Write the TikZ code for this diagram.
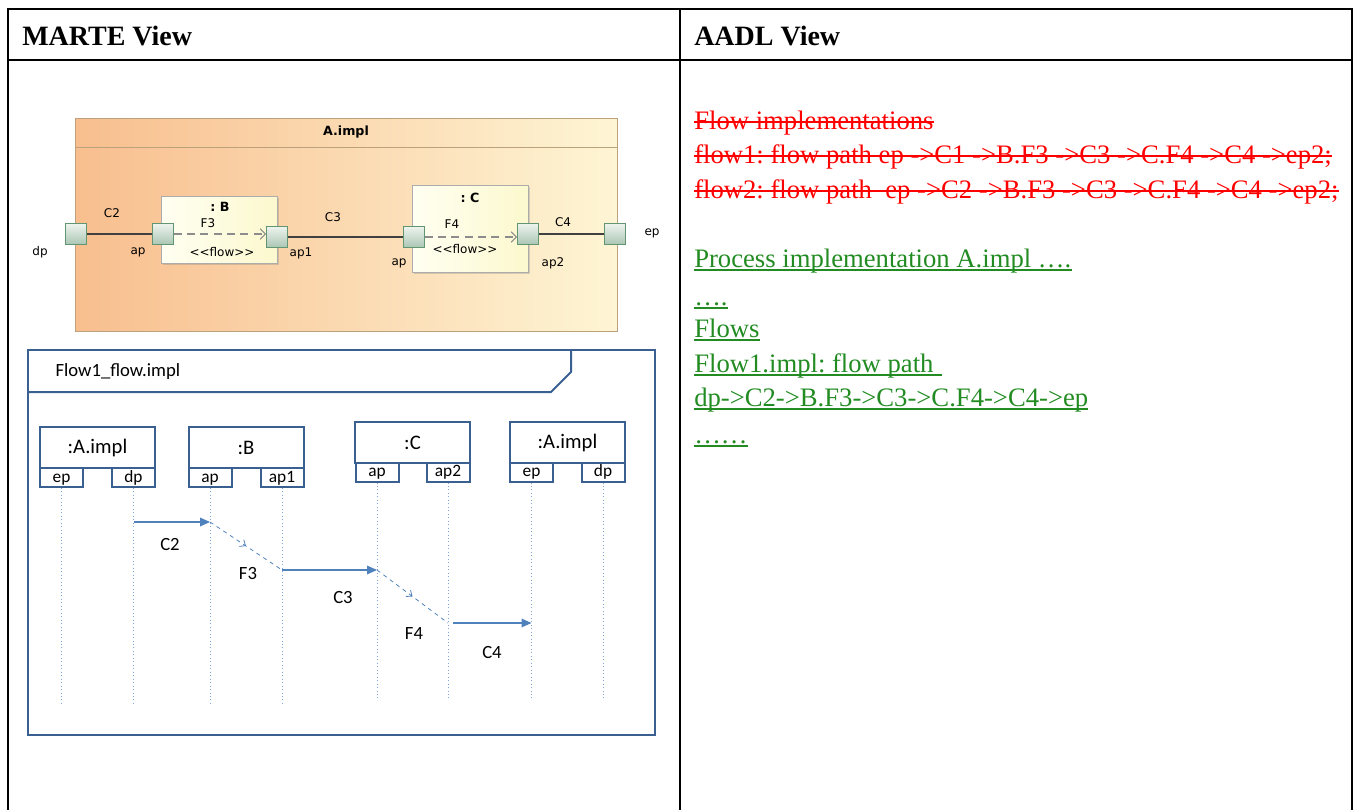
\documentclass[tikz,border=0pt]{standalone}
\usepackage{fontspec}
\setmainfont{Liberation Serif}
\newfontfamily\umlfont{DejaVu Sans}
\newfontfamily\seqfont{Carlito}
\usetikzlibrary{arrows.meta,positioning,shadows,decorations.markings}
\frenchspacing

\definecolor{aorange}{RGB}{248,190,142}
\definecolor{ayellow}{RGB}{254,245,212}
\definecolor{aborder}{RGB}{188,162,124}
\definecolor{partlight}{RGB}{255,255,242}
\definecolor{partfill}{RGB}{252,248,206}
\definecolor{portlight}{RGB}{238,244,238}
\definecolor{portdark}{RGB}{170,198,180}
\definecolor{portborder}{RGB}{98,150,114}
\definecolor{seqblue}{RGB}{58,95,145}
\definecolor{msgblue}{RGB}{79,129,189}
\definecolor{lifeblue}{RGB}{130,165,215}
\definecolor{aadlred}{RGB}{255,0,0}
\definecolor{aadlgreen}{RGB}{34,139,34}

\begin{document}
\begin{tikzpicture}[
  x=0.75pt, y=-0.75pt,
  tbl/.style={line width=1.5pt, draw=black},
  head/.style={font=\bfseries\fontsize{21}{25}\selectfont, anchor=base west, inner sep=0pt},
  oldtxt/.style={text=aadlred, font=\fontsize{20}{24}\selectfont, anchor=base west, inner sep=0pt},
  newtxt/.style={text=aadlgreen, font=\fontsize{20}{24}\selectfont, anchor=base west, inner sep=0pt},
  strike/.style={draw=aadlred, line width=1.5pt},
  underl/.style={draw=aadlgreen, line width=1.1pt},
  part/.style={draw=gray!65, left color=partlight, right color=partfill, minimum width=87pt, inner sep=0pt,
    drop shadow={shadow xshift=1.5pt, shadow yshift=-1.5pt, opacity=0.3}},
  port/.style={draw=portborder, top color=portlight, bottom color=portdark, minimum size=15.75pt, inner sep=0pt},
  conn/.style={draw=black!75, line width=0.8pt},
  flowline/.style={draw=gray!90, line width=0.8pt, dash pattern=on 6pt off 4pt, -{Straight Barb[length=4pt, width=8pt]}},
  uml/.style={font=\umlfont\fontsize{9}{11}\selectfont, inner sep=1pt},
  umlbold/.style={font=\umlfont\bfseries\fontsize{9.5}{11}\selectfont, inner sep=1pt},
  frame/.style={draw=seqblue, line width=1.5pt},
  seqhead/.style={draw=seqblue, line width=1.5pt, fill=white, minimum width=86.25pt, minimum height=30.75pt,
    font=\seqfont\fontsize{15.5}{17}\selectfont, inner sep=0pt},
  seqport/.style={draw=seqblue, line width=1.5pt, fill=white, minimum width=32.25pt, minimum height=14.25pt,
    font=\seqfont\fontsize{13}{14}\selectfont, inner sep=0pt, text height=8pt, text depth=1pt},
  seqlbl/.style={font=\seqfont\fontsize{14}{16}\selectfont, inner sep=1pt},
  life/.style={draw=lifeblue, dotted, line width=0.6pt},
  msg/.style={draw=msgblue, line width=0.9pt, -{Triangle[length=7.5pt, width=6.5pt]}},
  flowmsg/.style={draw=msgblue, dashed, line width=0.6pt, postaction={decorate},
    decoration={markings, mark=at position 0.5 with {\arrow{Straight Barb[length=3.5pt, width=6pt]}}}}
]
\useasboundingbox (0,0) rectangle (1356,810);

\draw[tbl] (8,810) -- (8,9) -- (1352,9) -- (1352,810);
\draw[tbl] (8,60) -- (1352,60);
\draw[tbl] (680,9) -- (680,810);
\node[head] (marte) at (22,45) {MARTE View};
\node[head] (aadl) at (694,45) {AADL View};

\node[draw=aborder, left color=aorange, right color=ayellow, minimum width=406.5pt, minimum height=159.75pt, inner sep=0pt]
  (aimpl) at (346,224.5) {};
\draw[draw=aborder] (75,147) -- (617,147);
\node[umlbold] (atitle) at (346,132) {A.impl};

\node[part, minimum height=50.25pt] (partb) at (219,229.5) {};
\node[part, minimum height=65.25pt] (partc) at (470,228.5) {};

\node[port] (dp) at (76,234) {};
\node[port] (bap) at (163,234) {};
\node[port] (bap1) at (277,237) {};
\node[port] (cap) at (414,237) {};
\node[port] (cap2) at (528,234) {};
\node[port] (ep) at (615,234) {};

\draw[conn] (dp.east) -- (bap.west);
\draw[conn] (bap1.east) -- (cap.west |- bap1.east);
\draw[conn] (cap2.east) -- (ep.west);
\draw[flowline] (bap.east) -- (bap1.west |- bap.east);
\draw[flowline] (cap.east) -- (cap2.west |- cap.east);

\node[uml] (lc2) at (112,213) {C2};
\node[uml] (ldp) at (40,252) {dp};
\node[uml] (lbap) at (138,252) {ap};
\node[umlbold] (lb) at (220,207) {: B};
\node[uml] (lf3) at (208,223) {F3};
\node[uml] (lfb) at (222,252) {\mbox{<}\mbox{<}flow\mbox{>}\mbox{>}};
\node[uml] (lbap1) at (301,253) {ap1};
\node[uml] (lc3) at (333,217) {C3};
\node[umlbold] (lc) at (470,198) {: C};
\node[uml] (lf4) at (452,224) {F4};
\node[uml] (lfc) at (465,249) {\mbox{<}\mbox{<}flow\mbox{>}\mbox{>}};
\node[uml] (lcap) at (399,263) {ap};
\node[uml] (lcap2) at (553,263) {ap2};
\node[uml] (lc4) at (563,222) {C4};
\node[uml] (lep) at (652,233) {ep};

\draw[frame] (28,350) rectangle (655,735);
\draw[frame] (28,392) -- (551,392) -- (571,372) -- (571,350);
\node[seqlbl, anchor=west] (flab) at (54,372) {Flow1\_flow.impl};

\node[seqhead] (ha1) at (97.5,447.5) {:A.impl};
\node[seqport] (sep1) at (61.5,477.5) {ep};
\node[seqport] (sdp1) at (133.5,477.5) {dp};
\node[seqhead] (hb) at (246,447.5) {:B};
\node[seqport] (sbap) at (210,477.5) {ap};
\node[seqport] (sbap1) at (282,477.5) {ap1};
\node[seqhead] (hc) at (412.5,442.5) {:C};
\node[seqport] (scap) at (377,472) {ap};
\node[seqport] (scap2) at (448,472) {ap2};
\node[seqhead] (ha2) at (567.5,442.5) {:A.impl};
\node[seqport] (sep2) at (531.5,472) {ep};
\node[seqport] (sdp2) at (603,472) {dp};

\coordinate (lowab) at (0,706);
\coordinate (lowcd) at (0,700);
\foreach \p in {sep1,sdp1,sbap,sbap1}
  \draw[life] (\p.south) -- (\p.south |- lowab);
\foreach \p in {scap,scap2,sep2,sdp2}
  \draw[life] (\p.south) -- (\p.south |- lowcd);

\coordinate (row1) at (0,522);
\coordinate (row2) at (0,570);
\coordinate (row3) at (0,623);
\draw[msg] (sdp1 |- row1) -- (sbap |- row1);
\draw[flowmsg] (sbap |- row1) -- (sbap1 |- row2);
\draw[msg] (sbap1 |- row2) -- (scap |- row2);
\draw[flowmsg] (scap |- row2) -- (scap2 |- row3);
\draw[msg, shorten <=4pt] (scap2 |- row3) -- (sep2 |- row3);

\node[seqlbl] (mc2) at (170,544) {C2};
\node[seqlbl] (mf3) at (248,573) {F3};
\node[seqlbl] (mc3) at (343,597) {C3};
\node[seqlbl] (mf4) at (414,633) {F4};
\node[seqlbl] (mc4) at (492,652) {C4};

\node[oldtxt] (oldhead) at (694,129) {Flow implementations};
\node[oldtxt] (oldflow1) at (694,163) {flow1: flow path ep ->C1 ->B.F3 ->C3 ->C.F4 ->C4 ->ep2;};
\node[oldtxt] (oldflow2) at (694,198) {flow2: flow path~ ep ->C2 ->B.F3 ->C3 ->C.F4 ->C4 ->ep2;};
\foreach \n in {oldhead,oldflow1,oldflow2}
  \draw[strike] ([yshift=5pt]\n.base west) -- ([yshift=5pt]\n.base east);

\node[newtxt] (newproc) at (694,267) {Process implementation A.impl ….};
\node[newtxt] (newdots) at (694,305) {….};
\node[newtxt] (newflows) at (694,337) {Flows};
\node[newtxt] (newflow1) at (694,372) {Flow1.impl: flow path\kern.3em};
\node[newtxt] (newpath) at (694,406) {dp->C2->B.F3->C3->C.F4->C4->ep};
\node[newtxt] (newend) at (694,443) {……};
\foreach \n in {newproc,newdots,newflows,newflow1,newpath,newend}
  \draw[underl] ([yshift=-2.4pt]\n.base west) -- ([yshift=-2.4pt]\n.base east);

\end{tikzpicture}
\end{document}
